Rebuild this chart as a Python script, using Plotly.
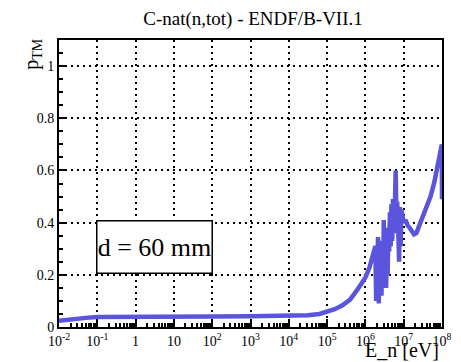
import plotly.graph_objects as go

# Neutron energy [eV] and transmission-like quantity p_TM
energy_ev = [
    1.0e-2, 2.0e-2, 5.0e-2, 1.0e-1, 1.0e0, 1.0e1, 1.0e2, 1.0e3, 1.0e4,
    3.16e4, 6.31e4, 1.0e5, 1.58e5, 2.51e5, 3.98e5, 6.31e5, 7.94e5,
    1.0e6, 1.26e6, 1.48e6, 1.66e6, 1.82e6, 1.91e6, 2.0e6, 2.04e6, 2.14e6,
    2.24e6, 2.29e6, 2.40e6, 2.51e6, 2.63e6, 2.75e6, 2.88e6, 3.02e6, 3.16e6,
    3.31e6, 3.47e6, 3.63e6, 3.80e6, 3.98e6, 4.17e6, 4.37e6, 4.57e6, 4.79e6,
    5.01e6, 5.25e6, 5.50e6, 5.89e6, 6.17e6, 6.46e6, 6.76e6, 7.24e6, 7.59e6,
    7.94e6, 8.32e6, 8.71e6, 9.33e6, 1.0e7, 1.12e7, 1.26e7, 1.51e7, 1.86e7,
    2.14e7, 2.51e7, 3.16e7, 3.98e7, 5.01e7, 6.31e7, 7.94e7, 9.33e7, 9.89e7,
    1.0e8,
]
p_tm = [
    0.024, 0.030, 0.035, 0.038, 0.040, 0.040, 0.040, 0.041, 0.041,
    0.045, 0.050, 0.058, 0.068, 0.083, 0.105, 0.145, 0.170,
    0.190, 0.225, 0.260, 0.285, 0.310, 0.100, 0.330, 0.120, 0.345,
    0.090, 0.320, 0.130, 0.300, 0.120, 0.330, 0.150, 0.410, 0.170,
    0.330, 0.150, 0.300, 0.200, 0.380, 0.290, 0.440, 0.310, 0.470,
    0.330, 0.490, 0.360, 0.460, 0.600, 0.420, 0.480, 0.360, 0.250,
    0.460, 0.310, 0.450, 0.410, 0.400, 0.410, 0.390, 0.375, 0.355,
    0.360, 0.385, 0.420, 0.460, 0.500, 0.555, 0.630, 0.690, 0.700,
    0.490,
]

x_tick_vals = [1e-2, 1e-1, 1e0, 1e1, 1e2, 1e3, 1e4, 1e5, 1e6, 1e7, 1e8]
x_tick_text = ["10<sup>-2</sup>", "10<sup>-1</sup>", "1", "10", "10<sup>2</sup>",
               "10<sup>3</sup>", "10<sup>4</sup>", "10<sup>5</sup>", "10<sup>6</sup>",
               "10<sup>7</sup>", "10<sup>8</sup>"]
y_tick_vals = [0, 0.2, 0.4, 0.6, 0.8, 1.0]
y_tick_text = ["0", "0.2", "0.4", "0.6", "0.8", "1"]

title_text = "C-nat(n,tot) - ENDF/B-VII.1"
x_title = "E_n [eV]"
y_title = "p<sub>TM</sub>"
box_label = "d = 60 mm"

FONT = "'Liberation Serif', 'Times New Roman', 'DejaVu Serif', serif"
LINE_COLOR = "#5a55dc"

# minor tick positions on the log axis (2..9 x each decade)
x_minor = [m * 10.0 ** k for k in range(-2, 8) for m in range(2, 10)]

fig = go.Figure()
fig.add_trace(go.Scatter(
    x=energy_ev, y=p_tm, mode="lines",
    line=dict(color=LINE_COLOR, width=4.5),
    showlegend=False, hoverinfo="skip",
))

W, H = 461, 362
L, R, T, B = 59, 9, 40, 35
pw, ph = W - L - R, H - T - B

def px_to_paper_x(px):
    return (px - L) / pw

def px_to_paper_y(py):
    return (H - B - py) / ph

fig.update_layout(
    width=W, height=H,
    margin=dict(l=L, r=R, t=T, b=B, pad=0),
    paper_bgcolor="white", plot_bgcolor="white",
    font=dict(family=FONT, color="black", size=14),
    title=dict(text=title_text, x=253 / W, xanchor="center",
               y=1 - 18.5 / H, yanchor="middle",
               font=dict(family=FONT, size=19, color="black")),
)

fig.update_xaxes(
    type="log", range=[-2, 8],
    tickmode="array", tickvals=x_tick_vals, ticktext=x_tick_text,
    ticks="inside", ticklen=8, tickwidth=1.5, tickcolor="black",
    showline=True, linecolor="black", linewidth=2, mirror=True,
    showgrid=True, gridcolor="black", gridwidth=1.5, griddash="2px,4px",
    zeroline=False,
    tickfont=dict(family=FONT, size=14, color="black"),
    minor=dict(tickmode="array", tickvals=x_minor, ticks="inside",
               ticklen=4, tickwidth=1.5, tickcolor="black", showgrid=False),
)
fig.update_yaxes(
    range=[0, 1.1],
    tickmode="array", tickvals=y_tick_vals, ticktext=y_tick_text,
    ticks="inside", ticklen=8, tickwidth=1.5, tickcolor="black",
    showline=True, linecolor="black", linewidth=2, mirror=True,
    showgrid=True, gridcolor="black", gridwidth=1.5, griddash="2px,4px",
    zeroline=False,
    tickfont=dict(family=FONT, size=14, color="black"),
    minor=dict(dtick=0.05, tick0=0, ticks="inside", ticklen=4,
               tickwidth=1.5, tickcolor="black", showgrid=False),
)

# axis titles, ROOT style placement
fig.add_annotation(
    text=x_title, xref="paper", yref="paper",
    x=px_to_paper_x(451), y=px_to_paper_y(350),
    xanchor="right", yanchor="middle", showarrow=False,
    font=dict(family=FONT, size=20, color="black"),
)
fig.add_annotation(
    text=y_title, xref="paper", yref="paper", textangle=-90,
    x=px_to_paper_x(31), y=px_to_paper_y(54),
    xanchor="center", yanchor="middle", showarrow=False,
    font=dict(family=FONT, size=20, color="black"),
)
# boxed label
fig.add_annotation(
    text=box_label, xref="paper", yref="paper",
    x=px_to_paper_x(156.5), y=px_to_paper_y(247),
    xanchor="center", yanchor="middle", showarrow=False,
    width=114, height=51, borderpad=0,
    bordercolor="black", borderwidth=1.5, bgcolor="white",
    font=dict(family=FONT, size=26, color="black"),
)

fig.write_html("out.html")
